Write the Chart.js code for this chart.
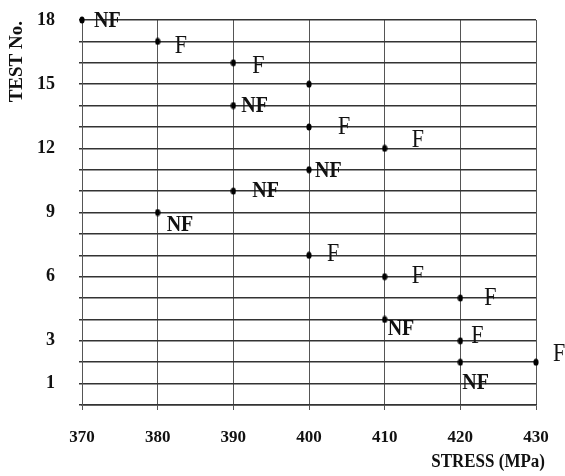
<!DOCTYPE html>
<html>
<head>
<meta charset="utf-8">
<script src="https://cdn.jsdelivr.net/npm/chart.js@4/dist/chart.umd.min.js"></script>
<style>
html,body{margin:0;padding:0;background:#fff;}
#wrap{width:565px;height:476px;position:relative;}
</style>
</head>
<body>
<div id="wrap"><canvas id="c"></canvas></div>
<script>
// ---- data ----
const stress = [370, 380, 390, 400, 390, 400, 410, 400, 390, 380, 400, 410, 420, 410, 420, 420, 430];
const testNo = [18, 17, 16, 15, 14, 13, 12, 11, 10, 9, 7, 6, 5, 4, 3, 2, 2];
const result = ['NF', 'F', 'F', '', 'NF', 'F', 'F', 'NF', 'NF', 'NF', 'F', 'F', 'F', 'NF', 'F', 'NF', 'F'];
const xTicks = [370, 380, 390, 400, 410, 420, 430];
const yTickLabels = [1, 3, 6, 9, 12, 15, 18];
const xTitle = 'STRESS (MPa)';
const yTitle = 'TEST No.';

// ---- label placement (pixels, relative to point) ----
const labelOffsets = [
  [12, 1], [17, 5], [19, 4], [0, 0], [8, 0], [29, 1], [27, -8], [6, 1], [19, 0], [9, 12],
  [18, -1], [27, 0], [24, 0], [3, 9], [11, -4], [2, 21], [17, -8]
];

const points = stress.map((s, i) => ({x: s, y: testNo[i]}));

// small vertical oval marker
const marker = document.createElement('canvas');
marker.width = 6; marker.height = 8;
(function () {
  const m = marker.getContext('2d');
  m.fillStyle = '#000';
  m.beginPath();
  m.ellipse(3, 4, 2.6, 3.6, 0, 0, Math.PI * 2);
  m.fill();
})();

function stretchedText(ctx, text, x, y, sy) {
  ctx.save();
  ctx.translate(x, y);
  ctx.scale(1, sy);
  ctx.fillText(text, 0, 0);
  ctx.restore();
}

const labelPlugin = {
  id: 'labels',
  afterDatasetsDraw(chart) {
    const ctx = chart.ctx, xs = chart.scales.x, ys = chart.scales.y;
    ctx.save();
    ctx.fillStyle = '#111';
    ctx.textBaseline = 'middle';
    ctx.textAlign = 'left';
    points.forEach((p, i) => {
      const t = result[i];
      if (!t) return;
      const px = xs.getPixelForValue(p.x) + labelOffsets[i][0];
      const py = ys.getPixelForValue(p.y) + labelOffsets[i][1];
      ctx.font = t === 'NF' ? 'bold 20px "Liberation Serif"' : '22px "Liberation Serif"';
      stretchedText(ctx, t, px, py, t === 'NF' ? 1.18 : 1.12);
    });
    // axis titles
    ctx.font = 'bold 17px "Liberation Serif"';
    ctx.textAlign = 'right';
    stretchedText(ctx, xTitle, chart.chartArea.right + 9, 462, 1.1);
    ctx.save();
    ctx.translate(17, chart.chartArea.top + 1);
    ctx.rotate(-Math.PI / 2);
    ctx.font = 'bold 19px "Liberation Serif"';
    ctx.textAlign = 'right';
    ctx.fillText(yTitle, 0, 0);
    ctx.restore();
    ctx.restore();
  }
};

new Chart(document.getElementById('c'), {
  type: 'scatter',
  data: {
    datasets: [{
      data: points,
      backgroundColor: '#000',
      borderColor: '#000',
      pointStyle: marker,
      pointRadius: 4,
      pointHoverRadius: 4,
      clip: false
    }]
  },
  options: {
    responsive: true,
    maintainAspectRatio: false,
    animation: false,
    layout: {padding: {left: 0, right: 29, top: 20, bottom: 0}},
    plugins: {legend: {display: false}, tooltip: {enabled: false}},
    scales: {
      x: {
        type: 'linear', min: 370, max: 430,
        afterFit(s) { s.height = 71; s.paddingLeft = 0; s.paddingRight = 0; },
        afterBuildTicks(s) { s.ticks = xTicks.map(v => ({value: v})); },
        ticks: {
          color: '#111', padding: 17, maxRotation: 0,
          font: {family: 'Liberation Serif', size: 17, weight: 'bold'}
        },
        grid: {color: '#555', lineWidth: 1, tickLength: 5, drawTicks: true},
        border: {color: '#333', width: 1.5}
      },
      y: {
        type: 'linear', min: 0, max: 18,
        afterFit(s) { s.width = 82; s.paddingTop = 0; s.paddingBottom = 0; },
        ticks: {
          stepSize: 1, autoSkip: false, color: '#111', padding: 24,
          font: {family: 'Liberation Serif', size: 18, weight: 'bold'},
          callback: v => yTickLabels.includes(v) ? String(v) : ''
        },
        grid: {color: '#333', lineWidth: 1.5, tickLength: 3, drawTicks: true},
        border: {color: '#555', width: 1}
      }
    }
  },
  plugins: [labelPlugin]
});
</script>
</body>
</html>
